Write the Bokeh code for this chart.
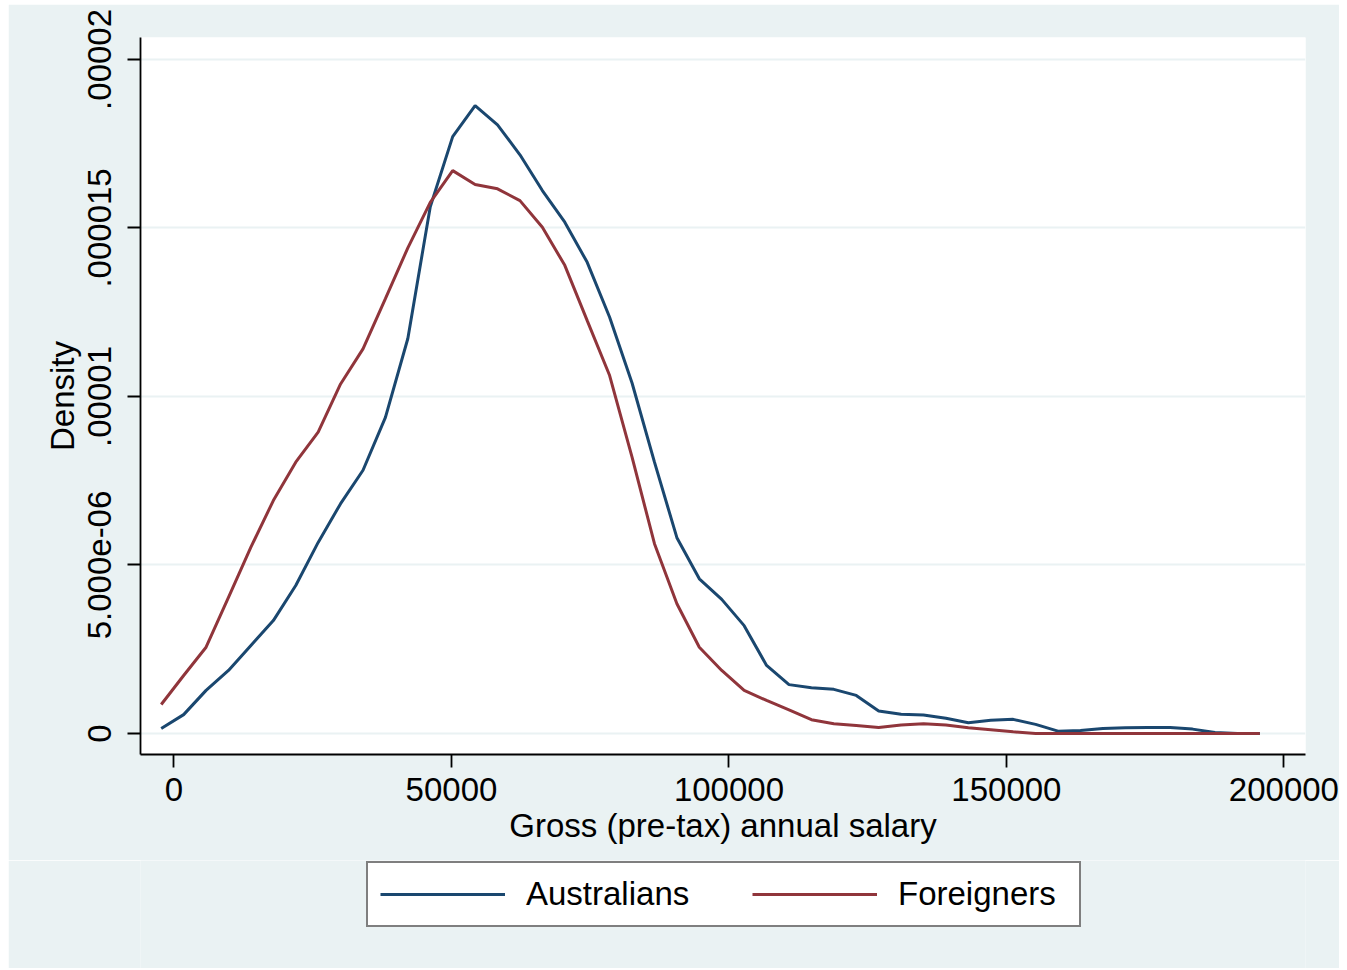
from bokeh.plotting import figure
from bokeh.models import Range1d, FixedTicker, Legend, LegendItem
from bokeh.layouts import column
from bokeh.embed import file_html
from bokeh.resources import INLINE

# Evaluation points of the kernel density (salary)
salary = [-2300 + 4040 * i for i in range(50)]

# Densities, in units of 1e-6
australians = [0.15, 0.56, 1.28, 1.87, 2.61, 3.35, 4.39, 5.67, 6.82, 7.81,
               9.38, 11.72, 15.63, 17.71, 18.63, 18.06, 17.17, 16.11, 15.17, 13.98,
               12.35, 10.40, 8.05, 5.81, 4.59, 3.98, 3.20, 2.02, 1.45, 1.36,
               1.31, 1.13, 0.67, 0.57, 0.55, 0.45, 0.32, 0.39, 0.42, 0.27,
               0.07, 0.09, 0.15, 0.17, 0.18, 0.18, 0.13, 0.03, 0.0, 0.0]
foreigners = [0.86, 1.72, 2.56, 4.04, 5.53, 6.91, 8.05, 8.94, 10.37, 11.41,
              12.90, 14.41, 15.76, 16.70, 16.29, 16.16, 15.81, 15.02, 13.89, 12.25,
              10.62, 8.20, 5.63, 3.85, 2.56, 1.87, 1.28, 0.98, 0.70, 0.41,
              0.29, 0.24, 0.18, 0.25, 0.29, 0.25, 0.17, 0.11, 0.05, 0.0,
              0.0, 0.0, 0.0, 0.0, 0.0, 0.0, 0.0, 0.0, 0.0, 0.0]

series_names = ["Australians", "Foreigners"]
series_colors = ["#1a476f", "#90353b"]

x_ticks = [0, 50000, 100000, 150000, 200000]
y_ticks = [0, 5e-6, 1e-5, 1.5e-5, 2e-5]
y_tick_labels = ["0", "5.000e-06", ".00001", ".000015", ".00002"]

FONT = "Liberation Sans"
BG = "#EAF2F3"

p = figure(width=1331, height=856, output_backend="svg", toolbar_location=None,
           x_range=Range1d(-6034, 203890), y_range=Range1d(-0.623e-6, 20.65e-6),
           min_border_left=132, min_border_right=34, min_border_top=33, min_border_bottom=106)
p.border_fill_color = BG
p.background_fill_color = "white"
p.outline_line_color = None

main_lines = []
for name, vals, col in zip(series_names, [australians, foreigners], series_colors):
    main_lines.append(p.line(salary, [v * 1e-6 for v in vals], line_color=col, line_width=3))

# axes
p.xaxis.ticker = FixedTicker(ticks=x_ticks)
p.yaxis.ticker = FixedTicker(ticks=y_ticks)
p.yaxis.major_label_overrides = {t: l for t, l in zip(y_ticks, y_tick_labels)}
p.xaxis.major_label_overrides = {t: str(t) for t in x_ticks}
p.yaxis.major_label_orientation = "vertical"
for ax in (p.xaxis[0], p.yaxis[0]):
    ax.axis_line_color = "black"
    ax.axis_line_width = 1.8
    ax.major_tick_line_color = "black"
    ax.major_tick_line_width = 1.8
    ax.major_tick_out = 13
    ax.major_tick_in = 0
    ax.minor_tick_line_color = None
    ax.major_label_text_font = FONT
    ax.major_label_text_font_size = "33px"
    ax.major_label_text_color = "black"
    ax.axis_label_text_font = FONT
    ax.axis_label_text_font_size = "33px"
    ax.axis_label_text_font_style = "normal"
    ax.axis_label_text_color = "black"
p.xaxis.axis_label = "Gross (pre-tax) annual salary"
p.yaxis.axis_label = "Density"
p.xaxis.major_label_standoff = 10
p.yaxis.major_label_standoff = 16
p.xaxis.axis_label_standoff = 3
p.yaxis.axis_label_standoff = 5

p.xgrid.grid_line_color = None
p.ygrid.grid_line_color = BG
p.ygrid.grid_line_width = 2

# Legend lives in its own strip below the plot (same background).
# Its key lines reuse the series data, drawn far outside this strip's ranges.
lg = figure(width=1331, height=108, output_backend="svg", toolbar_location=None,
            x_axis_type=None, y_axis_type=None,
            x_range=Range1d(1e9, 1e9 + 1), y_range=Range1d(1e9, 1e9 + 1),
            min_border_left=0, min_border_right=0, min_border_top=0, min_border_bottom=0)
lg.border_fill_color = BG
lg.background_fill_color = BG
lg.outline_line_color = None
lg.xgrid.grid_line_color = None
lg.ygrid.grid_line_color = None
keys = [lg.line(salary, [v * 1e-6 for v in vals], line_color=c, line_width=3)
        for vals, c in zip([australians, foreigners], series_colors)]

legend = Legend(items=[LegendItem(label=n, renderers=[r]) for n, r in zip(series_names, keys)],
                orientation="horizontal", location=(226, 41))
legend.label_text_font = FONT
legend.label_text_font_size = "33px"
legend.label_text_color = "black"
legend.glyph_width = 125
legend.glyph_height = 30
legend.label_standoff = 21
legend.label_width = 169
legend.spacing = 57
legend.padding = 12
legend.margin = 0
legend.border_line_color = "black"
legend.border_line_width = 2
legend.background_fill_color = "white"
legend.background_fill_alpha = 1.0
lg.add_layout(legend, "center")

layout = column(p, lg, spacing=0)
layout.margin = (4, 0, 0, 8)

open("out.html", "w").write(file_html(layout, INLINE))
